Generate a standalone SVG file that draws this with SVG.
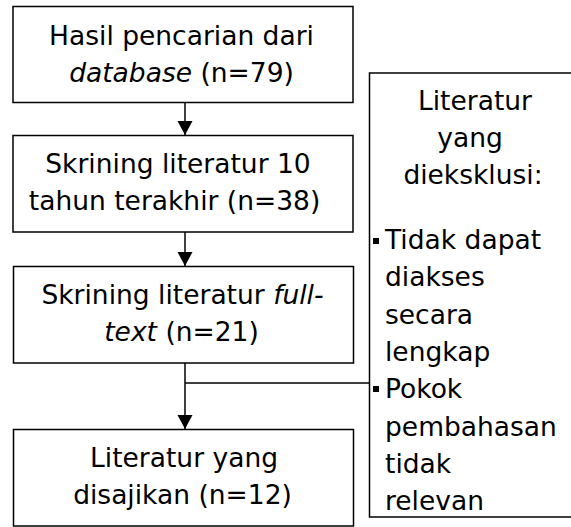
<svg xmlns="http://www.w3.org/2000/svg" width="571" height="527" viewBox="0 0 571 527">
<style>
.box{fill:#fff;stroke:#000;stroke-width:1.5}
.t{font-family:"DejaVu Sans",Verdana,sans-serif;font-size:26.5px;fill:#000}
.c{text-anchor:middle}
.i{font-style:italic}
.ln{fill:none;stroke:#000;stroke-width:1.5}
</style>
<defs>
<marker id="ah" markerUnits="userSpaceOnUse" markerWidth="16" markerHeight="16" refX="14" refY="7.5" orient="auto">
<path d="M0,0 L14,7.5 L0,15 Z" fill="#000"/>
</marker>
</defs>
<rect width="571" height="527" fill="#fff"/>
<g id="connectors">
<line class="ln" x1="185" y1="102.5" x2="185" y2="135" marker-end="url(#ah)"/>
<line class="ln" x1="185" y1="232" x2="185" y2="266" marker-end="url(#ah)"/>
<line class="ln" x1="185" y1="363" x2="185" y2="429" marker-end="url(#ah)"/>
<line class="ln" x1="185" y1="383" x2="369.5" y2="383"/>
</g>
<g id="n1">
<rect class="box" x="13" y="6.5" width="340" height="96"/>
<text class="t c" x="181.5" y="44.5">Hasil pencarian dari</text>
<text class="t c" x="181.5" y="81.5"><tspan class="i">database</tspan> (n=79)</text>
</g>
<g id="n2">
<rect class="box" x="13" y="135.5" width="340" height="96.5"/>
<text class="t c" x="178" y="173">Skrining literatur 10</text>
<text class="t c" x="174.5" y="210">tahun terakhir (n=38)</text>
</g>
<g id="n3">
<rect class="box" x="13.5" y="266.5" width="340" height="96.5"/>
<text class="t c" x="182.5" y="303.5">Skrining literatur <tspan class="i">full-</tspan></text>
<text class="t c" x="181.5" y="340.5"><tspan class="i">text</tspan> (n=21)</text>
</g>
<g id="n4">
<rect class="box" x="13.5" y="429.5" width="340" height="96.5"/>
<text class="t c" x="184" y="467">Literatur yang</text>
<text class="t c" x="182.5" y="503.5">disajikan (n=12)</text>
</g>
<g id="n5">
<rect class="box" x="369.5" y="73" width="220" height="444"/>
<text class="t c" x="475" y="110">Literatur</text>
<text class="t c" x="470" y="146.5">yang</text>
<text class="t c" x="473" y="183.5">dieksklusi:</text>
<rect x="373" y="238" width="6" height="6" fill="#000"/>
<text class="t" x="385" y="249">Tidak dapat</text>
<text class="t" x="385" y="286">diakses</text>
<text class="t" x="385" y="323.5">secara</text>
<text class="t" x="385" y="361">lengkap</text>
<rect x="373" y="386" width="6" height="6" fill="#000"/>
<text class="t" x="385" y="398">Pokok</text>
<text class="t" x="385" y="435.5">pembahasan</text>
<text class="t" x="385" y="473">tidak</text>
<text class="t" x="385" y="510">relevan</text>
</g>
</svg>
